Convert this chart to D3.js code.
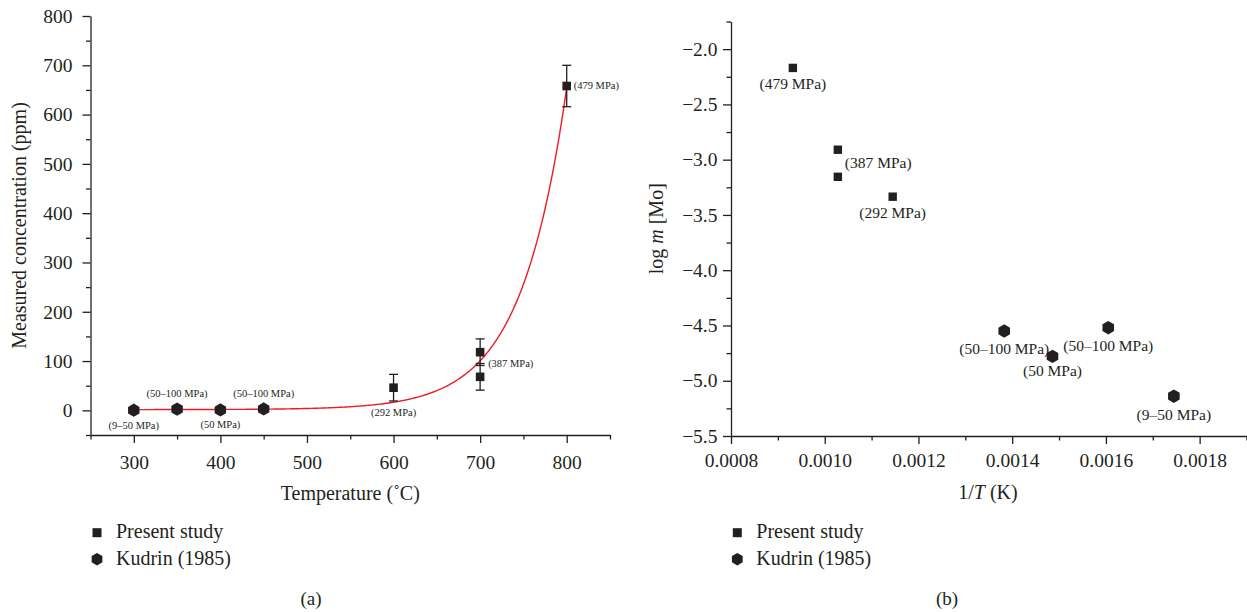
<!DOCTYPE html>
<html>
<head>
<meta charset="utf-8">
<script src="https://cdn.jsdelivr.net/npm/d3@7"></script>
<style>
  html, body { margin: 0; padding: 0; background: #fff; }
  svg { display: block; font-family: "Liberation Serif", "Times New Roman", serif; }
  .axis path, .axis line { stroke: #231f20; stroke-width: 1.3px; }
  .axis text { fill: #231f20; font-size: 19.5px; font-family: "Liberation Serif", serif; }
</style>
</head>
<body>
<svg id="chart" width="1247" height="612"></svg>
<script>
// ---- (a) measured Mo concentration vs temperature ----
const presentTempC  = [600, 700, 700, 800];
const presentPpm    = [46, 118, 68, 658];
const presentPpmErr = [27, 27, 27, 42];
const presentNotesA = ["(292 MPa)", "(387 MPa)", "", "(479 MPa)"];
const presentPlaceA = ["belowBar", "belowRight", "", "right"];

const kudrinTempC   = [300, 350, 400, 450];
const kudrinPpm     = [0.3, 2.5, 0.8, 2.8];
const kudrinNotesA  = ["(9–50 MPa)", "(50–100 MPa)", "(50 MPa)", "(50–100 MPa)"];
const kudrinPlaceA  = ["below", "above", "below", "above"];

// exponential growth fit drawn through the present-study points
const fitA = 653, fitT0 = 800, fitTau = 53, fitY0 = 1.5;
const fitRange = [300, 800];

const tempTicks       = [300, 400, 500, 600, 700, 800];
const tempMinorTicks  = [250, 350, 450, 550, 650, 750, 850];
const ppmTicks        = [0, 100, 200, 300, 400, 500, 600, 700, 800];
const ppmMinorTicks   = [-50, 50, 150, 250, 350, 450, 550, 650, 750];

// ---- (b) log m vs 1/T ----
const presentInvT   = [0.000932, 0.001028, 0.001028, 0.001145];
const presentLogM   = [-2.17, -2.91, -3.155, -3.335];
const presentNotesB = ["(479 MPa)", "(387 MPa)", "", "(292 MPa)"];
const presentPlaceB = ["below", "belowRight", "", "below"];

const kudrinInvT    = [0.001383, 0.001486, 0.001605, 0.001745];
const kudrinLogM    = [-4.55, -4.78, -4.52, -5.14];
const kudrinNotesB  = ["(50–100 MPa)", "(50 MPa)", "(50–100 MPa)", "(9–50 MPa)"];
const kudrinPlaceB  = ["below", "below", "below", "below"];

const invTTicks       = [0.0008, 0.0010, 0.0012, 0.0014, 0.0016, 0.0018];
const invTMinorTicks  = [0.0009, 0.0011, 0.0013, 0.0015, 0.0017, 0.0019];
const logMTicks       = [-5.5, -5.0, -4.5, -4.0, -3.5, -3.0, -2.5, -2.0];
const logMMinorTicks  = [-5.25, -4.75, -4.25, -3.75, -3.25, -2.75, -2.25, -1.75];

const legendLabels = ["Present study", "Kudrin (1985)"];

const ink = "#231f20";
const fitColor = "#ed1c24";
const svg = d3.select("#chart");

function hexPath(r) {
  const pts = d3.range(6).map(i => {
    const a = -Math.PI / 2 + i * Math.PI / 3;
    return [r * Math.cos(a), r * Math.sin(a)];
  });
  return "M" + pts.map(p => p.join(",")).join("L") + "Z";
}

function drawAxes(g, x, y, opt) {
  const xAxis = g.append("g").attr("class", "axis")
    .attr("transform", `translate(0,${y.range()[0]})`)
    .call(d3.axisBottom(x).tickValues(opt.xTicks).tickFormat(opt.xFmt)
      .tickSize(8).tickSizeOuter(0).tickPadding(opt.xPad));
  g.append("g").attr("class", "axis")
    .attr("transform", `translate(0,${y.range()[0]})`)
    .call(d3.axisBottom(x).tickValues(opt.xMinor).tickFormat("")
      .tickSize(4.5).tickSizeOuter(0))
    .select(".domain").remove();
  g.append("g").attr("class", "axis")
    .attr("transform", `translate(${x.range()[0]},0)`)
    .call(d3.axisLeft(y).tickValues(opt.yTicks).tickFormat(opt.yFmt)
      .tickSize(8).tickSizeOuter(0).tickPadding(opt.yPad));
  g.append("g").attr("class", "axis")
    .attr("transform", `translate(${x.range()[0]},0)`)
    .call(d3.axisLeft(y).tickValues(opt.yMinor).tickFormat("")
      .tickSize(4.5).tickSizeOuter(0))
    .select(".domain").remove();
  return xAxis;
}

function noteText(g, x, y, text, size, anchor) {
  g.append("text").attr("x", x).attr("y", y)
    .attr("text-anchor", anchor).attr("dominant-baseline", "central")
    .attr("font-size", size).attr("fill", ink).text(text);
}

function legend(g, x, y0) {
  const gap = 26.5;
  g.append("rect").attr("x", x - 4.5).attr("y", y0 - 4.5)
    .attr("width", 9).attr("height", 9).attr("fill", ink);
  g.append("path").attr("d", hexPath(6.2))
    .attr("transform", `translate(${x},${y0 + gap})`).attr("fill", ink);
  legendLabels.forEach((t, i) => {
    g.append("text").attr("x", x + 19).attr("y", y0 + i * gap + 5.5)
      .attr("font-size", 20).attr("fill", ink).text(t);
  });
}

// ================= panel (a) =================
{
  const g = svg.append("g");
  const x = d3.scaleLinear().domain([250, 850]).range([90.5, 610]);
  const y = d3.scaleLinear().domain([-50, 800]).range([435, 16]);

  drawAxes(g, x, y, {
    xTicks: tempTicks, xMinor: tempMinorTicks, xFmt: d3.format("d"), xPad: 12.5,
    yTicks: ppmTicks, yMinor: ppmMinorTicks, yFmt: d3.format("d"), yPad: 10
  });

  // fit curve
  const fitPts = d3.range(fitRange[0], fitRange[1] + 0.5, 2)
    .map(t => [t, fitA * Math.exp((t - fitT0) / fitTau) + fitY0]);
  g.append("path")
    .attr("d", d3.line().x(d => x(d[0])).y(d => y(d[1]))(fitPts))
    .attr("fill", "none").attr("stroke", fitColor).attr("stroke-width", 1.4);

  // error bars
  presentTempC.forEach((t, i) => {
    const cx = x(t), lo = y(presentPpm[i] - presentPpmErr[i]), hi = y(presentPpm[i] + presentPpmErr[i]);
    const eb = g.append("g").attr("stroke", ink).attr("stroke-width", 1.3);
    eb.append("line").attr("x1", cx).attr("x2", cx).attr("y1", lo).attr("y2", hi);
    eb.append("line").attr("x1", cx - 4.5).attr("x2", cx + 4.5).attr("y1", lo).attr("y2", lo);
    eb.append("line").attr("x1", cx - 4.5).attr("x2", cx + 4.5).attr("y1", hi).attr("y2", hi);
  });

  // Kudrin hexagons
  kudrinTempC.forEach((t, i) => {
    g.append("path").attr("d", hexPath(6.6))
      .attr("transform", `translate(${x(t)},${y(kudrinPpm[i])})`).attr("fill", ink);
  });
  // present study squares
  presentTempC.forEach((t, i) => {
    g.append("rect").attr("x", x(t) - 4.3).attr("y", y(presentPpm[i]) - 4.3)
      .attr("width", 8.6).attr("height", 8.6).attr("fill", ink);
  });

  // pressure notes
  const fs = 10.5;
  kudrinTempC.forEach((t, i) => {
    const cx = x(t), cy = y(kudrinPpm[i]);
    const dy = kudrinPlaceA[i] === "above" ? -15.5 : 15;
    noteText(g, cx, cy + dy, kudrinNotesA[i], fs, "middle");
  });
  presentTempC.forEach((t, i) => {
    if (!presentNotesA[i]) return;
    const cx = x(t), cy = y(presentPpm[i]);
    const p = presentPlaceA[i];
    if (p === "belowBar") noteText(g, cx, y(presentPpm[i] - presentPpmErr[i]) + 12, presentNotesA[i], fs, "middle");
    else if (p === "belowRight") noteText(g, cx + 8, cy + 11, presentNotesA[i], fs, "start");
    else noteText(g, cx + 7, cy, presentNotesA[i], fs, "start");
  });

  // axis titles
  g.append("text").attr("transform", `translate(19,${(16 + 435) / 2}) rotate(-90)`)
    .attr("text-anchor", "middle").attr("dominant-baseline", "central")
    .attr("font-size", 20).attr("fill", ink).text("Measured concentration (ppm)");
  g.append("text").attr("x", (90.5 + 610) / 2).attr("y", 499.5)
    .attr("text-anchor", "middle").attr("font-size", 20).attr("fill", ink)
    .text("Temperature (˚C)");

  legend(g, 97, 532.7);
  g.append("text").attr("x", 311).attr("y", 605).attr("text-anchor", "middle")
    .attr("font-size", 19).attr("fill", ink).text("(a)");
}

// ================= panel (b) =================
{
  const g = svg.append("g");
  const x = d3.scaleLinear().domain([0.0008, 0.0019]).range([731, 1246.5]);
  const y = d3.scaleLinear().domain([-5.5, -1.75]).range([436, 21.5]);

  drawAxes(g, x, y, {
    xTicks: invTTicks, xMinor: invTMinorTicks, xFmt: d3.format(".4f"), xPad: 9,
    yTicks: logMTicks, yMinor: logMMinorTicks, yFmt: d3.format(".1f"), yPad: 5.5
  });

  kudrinInvT.forEach((v, i) => {
    g.append("path").attr("d", hexPath(6.7))
      .attr("transform", `translate(${x(v)},${y(kudrinLogM[i])})`).attr("fill", ink);
  });
  presentInvT.forEach((v, i) => {
    g.append("rect").attr("x", x(v) - 4.2).attr("y", y(presentLogM[i]) - 4.2)
      .attr("width", 8.4).attr("height", 8.4).attr("fill", ink);
  });

  const fs = 15.5;
  kudrinInvT.forEach((v, i) => {
    const dy = kudrinNotesB[i] === "(50 MPa)" ? 14.5 : 18;
    noteText(g, x(v), y(kudrinLogM[i]) + dy, kudrinNotesB[i], fs, "middle");
  });
  presentInvT.forEach((v, i) => {
    if (!presentNotesB[i]) return;
    const cx = x(v), cy = y(presentLogM[i]);
    if (presentPlaceB[i] === "belowRight") noteText(g, cx + 7, cy + 12.7, presentNotesB[i], fs, "start");
    else noteText(g, cx, cy + 16, presentNotesB[i], fs, "middle");
  });

  const yt = g.append("text").attr("transform", `translate(656,${(21.5 + 436) / 2}) rotate(-90)`)
    .attr("text-anchor", "middle").attr("dominant-baseline", "central")
    .attr("font-size", 20).attr("fill", ink);
  yt.append("tspan").text("log ");
  yt.append("tspan").attr("font-style", "italic").text("m");
  yt.append("tspan").text(" [Mo]");

  const xt = g.append("text").attr("x", 988).attr("y", 498.5)
    .attr("text-anchor", "middle").attr("font-size", 20).attr("fill", ink);
  xt.append("tspan").text("1/");
  xt.append("tspan").attr("font-style", "italic").text("T");
  xt.append("tspan").text(" (K)");

  legend(g, 737.3, 532.7);
  g.append("text").attr("x", 947).attr("y", 605).attr("text-anchor", "middle")
    .attr("font-size", 19).attr("fill", ink).text("(b)");
}
</script>
</body>
</html>
